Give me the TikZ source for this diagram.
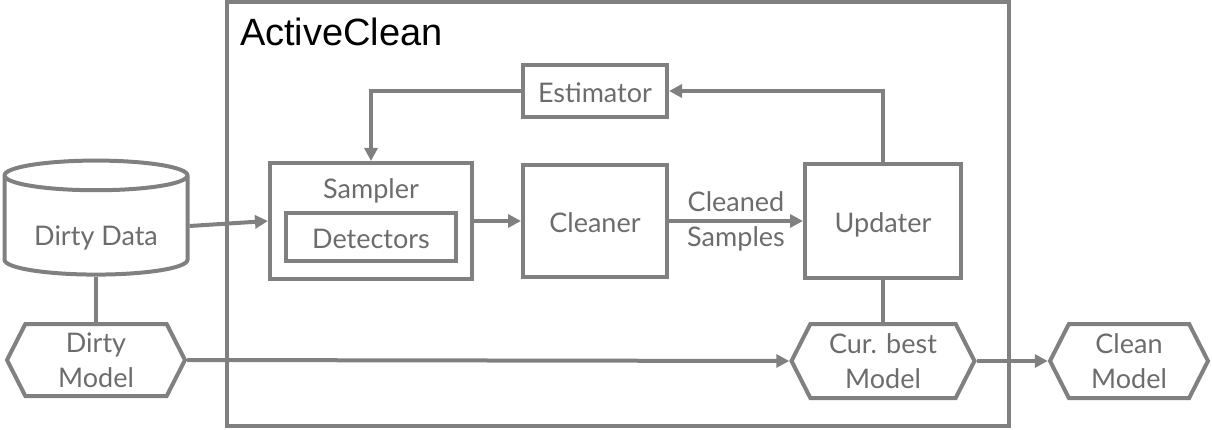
\documentclass[tikz,border=0pt]{standalone}
\usepackage{fontspec}
\setmainfont{Lato}
\newfontfamily\titlefont{Liberation Sans}
\usetikzlibrary{arrows.meta}
\usetikzlibrary{shapes.geometric}
\usetikzlibrary{shapes.symbols}
\definecolor{linegray}{RGB}{128,128,128}
\definecolor{textgray}{RGB}{108,108,108}

\begin{document}
\begin{tikzpicture}[x=1pt, y=-1pt, line width=4pt,
    every node/.style={font=\fontsize{27}{35}\selectfont, text=textgray, align=center, inner sep=0pt},
    block/.style={draw=linegray, text height=26pt, text depth=2pt},
    model/.style={draw=linegray, shape=signal, signal to=east and west, signal pointer angle=126, text depth=-4pt},
    arr/.style={draw=linegray, -{Triangle[length=13pt,width=13pt]}},
    link/.style={draw=linegray}]
      \useasboundingbox (0,0) rectangle (1212,430);

      % ActiveClean frame
      \node[draw=linegray, minimum width=782, minimum height=424] (frame) at (618,214) {};
      \node[anchor=north west, text=black, font=\titlefont\fontsize{38}{42}\selectfont] (title) at (238,16) {ActiveClean};

      % inside the frame
      \node[draw=linegray, minimum width=202, minimum height=116] (sampler) at (371,221) {};
      \node[anchor=base] (samplerlbl) at (371,199) {Sampler};
      \node[block, minimum width=170, minimum height=48] (detect) at (371,237) {Detectors};
      \node[block, minimum width=144, minimum height=112] (cleaner) at (595,221) {Cleaner};
      \node[block, minimum width=144, minimum height=52] (est) at (595,91) {Estimator};
      \node[block, minimum width=156, minimum height=114] (updater) at (883,221) {Updater};

      % data and models
      \node[draw=linegray, cylinder, shape border rotate=90, aspect=0.24,
        minimum width=183, minimum height=114, text height=45pt, text depth=6pt] (data) at (96,226) {Dirty Data};
      \node[model, minimum width=178, minimum height=72] (dmodel) at (96,360) {Dirty\\Model};
      \node[model, minimum width=183, minimum height=74] (cbest) at (883,361) {Cur. best\\Model};
      \node[model, minimum width=158, minimum height=74] (clean) at (1129,361) {Clean\\Model};

      \draw[arr] (data.east) -- (sampler.west);
      \draw[arr] (sampler) -- (cleaner);
      \draw[arr] (cleaner) -- (updater)
        node[pos=0.5] (cleanedlbl) {Cleaned\\Samples};
      \draw[arr] (updater.north) |- (est.east);
      \draw[arr] (est.west) -| (sampler.north);

      \draw[link] (data.south) -- (dmodel.north);
      \draw[link] (updater.south) -- (cbest.north);
      \draw[arr] (dmodel.east) -- (cbest.west);
      \draw[arr] (cbest.east) -- (clean.west);
    \end{tikzpicture}
\end{document}
